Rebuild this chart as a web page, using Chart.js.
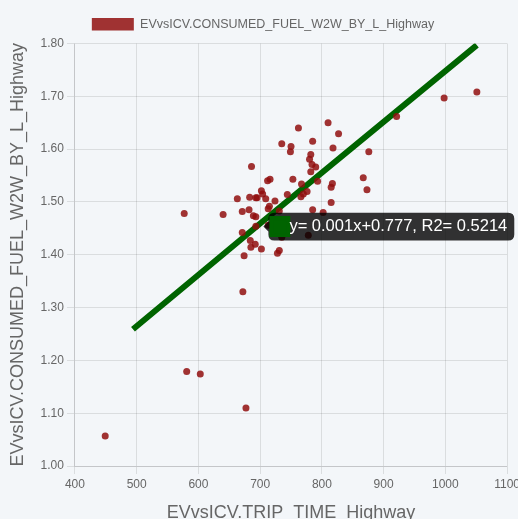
<!DOCTYPE html>
<html>
<head>
<meta charset="utf-8">
<script src="https://cdn.jsdelivr.net/npm/chart.js@4.4.1/dist/chart.umd.min.js"></script>
<style>
  html, body { margin: 0; padding: 0; overflow: hidden; background: #f3f6f9; }
  #wrap { position: relative; width: 523px; height: 528px; }
</style>
</head>
<body>
<div id="wrap"><canvas id="fuelChart"></canvas></div>
<script>
// Highway trips: trip time vs. consumed fuel (W2W, litres)
const tripTime = [
    449, 577, 581, 603, 640, 677, 672, 921, 998, 1051,
    762, 810, 827, 735, 750, 785, 749, 818, 876, 782,
    780, 686, 784, 790, 782, 712, 716, 753, 793, 767,
    817, 815, 867, 873, 702, 704, 776, 770, 766, 744,
    663, 683, 693, 695, 709, 724, 715, 713, 815, 731,
    785, 802, 671, 682, 689, 693, 671, 693, 713, 735,
    778, 684, 692, 685, 702, 674, 731, 728
];
const fuelUsed = [
    1.057, 1.478, 1.179, 1.174, 1.476, 1.110, 1.330, 1.662, 1.697, 1.708,
    1.640, 1.650, 1.629, 1.610, 1.605, 1.615, 1.595, 1.602, 1.595, 1.590,
    1.581, 1.567, 1.571, 1.566, 1.557, 1.540, 1.543, 1.543, 1.539, 1.534,
    1.535, 1.528, 1.546, 1.523, 1.521, 1.515, 1.520, 1.515, 1.510, 1.514,
    1.506, 1.509, 1.508, 1.508, 1.506, 1.502, 1.492, 1.487, 1.499, 1.483,
    1.485, 1.480, 1.482, 1.485, 1.474, 1.472, 1.442, 1.454, 1.456, 1.433,
    1.437, 1.427, 1.420, 1.414, 1.411, 1.398, 1.408, 1.403
];

// fitted trend line (start, hover point, end)
const trendTime = [494, 702, 1051];
const trendFuel = [1.259, 1.461, 1.797];
const trendText = 'y= 0.001x+0.777, R2= 0.5214';
const trendHoverIndex = 1;

const xTicks = [400, 500, 600, 700, 800, 900, 1000, 1100];
const yTicks = [1.00, 1.10, 1.20, 1.30, 1.40, 1.50, 1.60, 1.70, 1.80];

const seriesName = 'EVvsICV.CONSUMED_FUEL_W2W_BY_L_Highway';
const xTitle = 'EVvsICV.TRIP_TIME_Highway';

// a little breathing room under the legend
const legendMargin = {
    id: 'legendMargin',
    beforeInit(chart) {
        const fit = chart.legend.fit;
        chart.legend.fit = function() {
            fit.call(chart.legend);
            this.height += 3;
        };
    }
};

// readout sits slightly below the hovered trend point
Chart.Tooltip.positioners.belowPoint = function(elements) {
    if (!elements.length) return false;
    const p = elements[0].element;
    return { x: p.x, y: p.y + 4 };
};

const ctx = document.getElementById('fuelChart').getContext('2d');
const chart = new Chart(ctx, {
    type: 'scatter',
    data: {
        datasets: [{
            label: seriesName,
            data: tripTime.map((t, i) => ({ x: t, y: fuelUsed[i] })),
            backgroundColor: 'rgba(145, 15, 15, 0.85)',
            borderColor: 'rgba(205, 130, 130, 0.8)',
            borderWidth: 1,
            pointBorderWidth: 0,
            pointRadius: 3.5,
            pointHoverRadius: 3.5
        }, {
            type: 'line',
            label: 'trend',
            data: trendTime.map((t, i) => ({ x: t, y: trendFuel[i] })),
            borderColor: '#006400',
            backgroundColor: '#006400',
            borderWidth: 6,
            pointRadius: 0,
            pointHoverRadius: 0,
            fill: false
        }]
    },
    options: {
        responsive: true,
        maintainAspectRatio: false,
        animation: false,
        events: [],
        layout: { padding: { top: 8, left: 3, right: 0, bottom: 0 } },
        font: { family: 'Liberation Sans, Arial, sans-serif' },
        plugins: {
            legend: {
                labels: {
                    color: '#666',
                    boxWidth: 42,
                    font: { size: 12.5 },
                    filter: item => item.datasetIndex === 0
                }
            },
            tooltip: {
                position: 'belowPoint',
                xAlign: 'left',
                yAlign: 'center',
                backgroundColor: 'rgba(0, 0, 0, 0.8)',
                bodyFont: { size: 16.5 },
                boxWidth: 15,
                boxHeight: 15,
                boxPadding: 0,
                padding: { left: 4, right: 7, top: 4, bottom: 4 },
                caretSize: 5,
                caretPadding: 2,
                cornerRadius: 6,
                callbacks: {
                    title: () => '',
                    label: () => trendText
                }
            }
        },
        scales: {
            x: {
                type: 'linear',
                min: xTicks[0],
                max: xTicks[xTicks.length - 1],
                ticks: {
                    stepSize: xTicks[1] - xTicks[0],
                    color: '#666',
                    font: { size: 12 },
                    callback: v => String(v)
                },
                title: {
                    display: true,
                    text: xTitle,
                    color: '#666',
                    font: { size: 18 },
                    padding: { top: 8, bottom: 4 }
                }
            },
            y: {
                type: 'linear',
                min: yTicks[0],
                max: yTicks[yTicks.length - 1],
                ticks: {
                    stepSize: 0.1,
                    color: '#666',
                    font: { size: 12 },
                    callback: v => v.toFixed(2)
                },
                title: {
                    display: true,
                    text: seriesName,
                    color: '#666',
                    font: { size: 18 },
                    padding: { top: 4, bottom: 9 }
                }
            }
        }
    },
    plugins: [legendMargin]
});

// keep the trend readout showing
chart.tooltip.setActiveElements([{ datasetIndex: 1, index: trendHoverIndex }], { x: 0, y: 0 });
chart.update();
</script>
</body>
</html>
